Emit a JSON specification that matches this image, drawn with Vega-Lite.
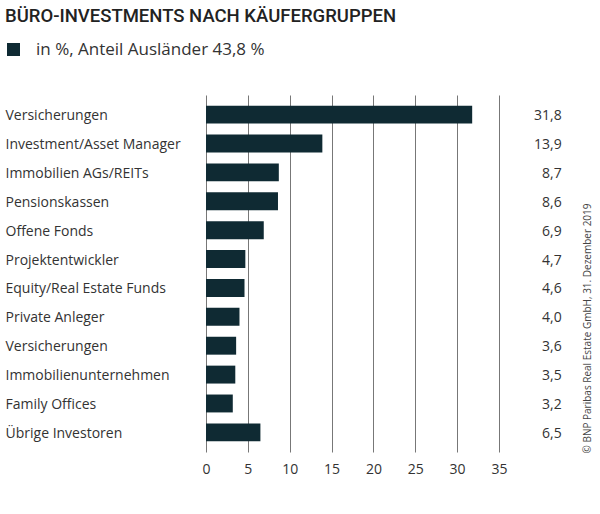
{
  "$schema": "https://vega.github.io/schema/vega-lite/v6.json",
  "width": 394,
  "height": 357,
  "autosize": {"type": "none"},
  "padding": {"left": 206, "top": 95, "right": 0, "bottom": 62},
  "background": "white",
  "config": {
    "locale": {"number": {"decimal": ",", "thousands": ".", "grouping": [3], "currency": ["", " €"]}},
    "view": {"stroke": null},
    "font": "Open Sans"
  },
  "title": {
    "text": "BÜRO-INVESTMENTS NACH KÄUFERGRUPPEN",
    "anchor": "start",
    "frame": "group",
    "dx": -201,
    "offset": 16,
    "font": "Roboto",
    "fontSize": 18.5,
    "fontWeight": 500,
    "color": "#222222"
  },
  "data": {
    "values": [
      {"key": "01|Versicherungen", "anteil": 31.8, "serie": "in %, Anteil Ausländer 43,8 %"},
      {"key": "02|Investment/Asset Manager", "anteil": 13.9, "serie": "in %, Anteil Ausländer 43,8 %"},
      {"key": "03|Immobilien AGs/REITs", "anteil": 8.7, "serie": "in %, Anteil Ausländer 43,8 %"},
      {"key": "04|Pensionskassen", "anteil": 8.6, "serie": "in %, Anteil Ausländer 43,8 %"},
      {"key": "05|Offene Fonds", "anteil": 6.9, "serie": "in %, Anteil Ausländer 43,8 %"},
      {"key": "06|Projektentwickler", "anteil": 4.7, "serie": "in %, Anteil Ausländer 43,8 %"},
      {"key": "07|Equity/Real Estate Funds", "anteil": 4.6, "serie": "in %, Anteil Ausländer 43,8 %"},
      {"key": "08|Private Anleger", "anteil": 4.0, "serie": "in %, Anteil Ausländer 43,8 %"},
      {"key": "09|Versicherungen", "anteil": 3.6, "serie": "in %, Anteil Ausländer 43,8 %"},
      {"key": "10|Immobilienunternehmen", "anteil": 3.5, "serie": "in %, Anteil Ausländer 43,8 %"},
      {"key": "11|Family Offices", "anteil": 3.2, "serie": "in %, Anteil Ausländer 43,8 %"},
      {"key": "12|Übrige Investoren", "anteil": 6.5, "serie": "in %, Anteil Ausländer 43,8 %"}
    ]
  },
  "layer": [
    {
      "mark": {"type": "bar"},
      "encoding": {
        "y": {
          "field": "key",
          "type": "nominal",
          "sort": "ascending",
          "scale": {"paddingInner": 0.38, "paddingOuter": 0.37},
          "axis": {
            "title": null,
            "domain": false,
            "ticks": false,
            "labelAlign": "left",
            "labelPadding": 201,
            "labelExpr": "split(datum.label, '|')[1]",
            "labelFontSize": 14,
            "labelColor": "#333333",
            "labelFont": "Open Sans",
            "labelOffset": 1.5
          }
        },
        "x": {
          "field": "anteil",
          "type": "quantitative",
          "scale": {"domain": [0, 47.07], "nice": false},
          "axis": {
            "values": [0, 5, 10, 15, 20, 25, 30, 35],
            "title": null,
            "domain": false,
            "ticks": false,
            "grid": true,
            "gridColor": "#777777",
            "gridWidth": 1,
            "gridOpacity": 1,
            "labelFontSize": 14,
            "labelColor": "#333333",
            "labelFont": "Open Sans",
            "labelPadding": 10,
            "labelFlush": false
          }
        },
        "color": {
          "field": "serie",
          "type": "nominal",
          "scale": {"range": ["#0f2a33"]},
          "legend": {
            "title": null,
            "orient": "none",
            "legendX": -201,
            "legendY": -54,
            "padding": 0,
            "symbolType": "square",
            "symbolSize": 170,
            "symbolStrokeWidth": 0,
            "symbolOpacity": 1,
            "labelFontSize": 17,
            "labelColor": "#333333",
            "labelFont": "Open Sans",
            "labelOffset": 14,
            "labelLimit": 0
          }
        }
      }
    },
    {
      "mark": {"type": "text", "align": "right", "baseline": "middle", "fontSize": 14, "color": "#333333", "font": "Open Sans", "dy": 1.5},
      "encoding": {
        "y": {"field": "key", "type": "nominal", "sort": "ascending"},
        "x": {"datum": 42.5},
        "text": {"field": "anteil", "type": "quantitative", "format": ".1f"}
      }
    },
    {
      "data": {"values": [{"quelle": "© BNP Paribas Real Estate GmbH, 31. Dezember 2019"}]},
      "mark": {"type": "text", "angle": 270, "align": "center", "baseline": "middle", "fontSize": 10, "color": "#444444", "font": "Open Sans", "dx": -55},
      "encoding": {
        "x": {"datum": 45.65},
        "text": {"field": "quelle"}
      }
    }
  ]
}
